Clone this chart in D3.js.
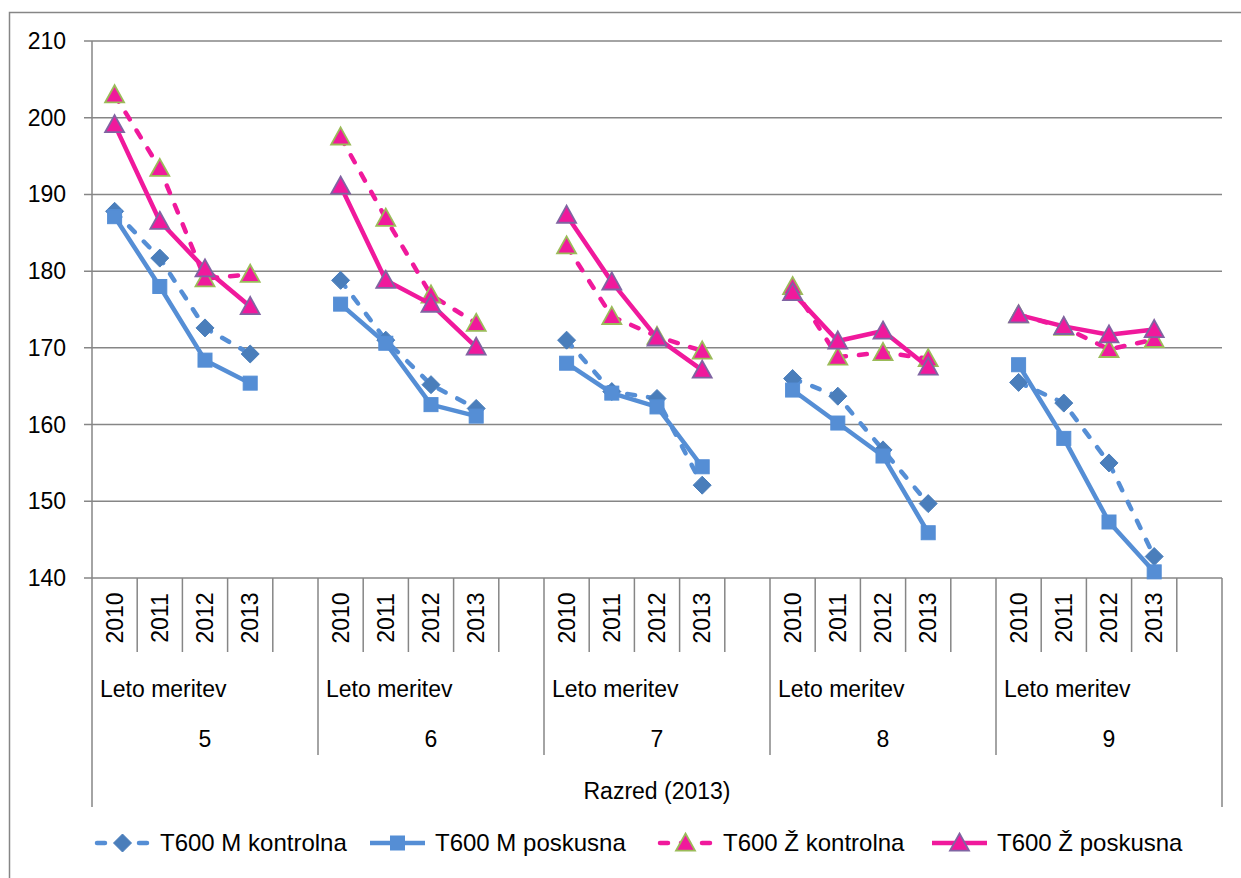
<!DOCTYPE html>
<html>
<head>
<meta charset="utf-8">
<script src="https://cdn.jsdelivr.net/npm/d3@7"></script>
<style>
  html, body { margin: 0; padding: 0; background: #fff; }
  svg { display: block; font-family: "Liberation Sans", Arial, sans-serif; }
</style>
</head>
<body>
<div id="chart"></div>
<script>
// razredi in leta meritev
const grades = ['5', '6', '7', '8', '9']
const years = ['2010', '2011', '2012', '2013']
const yTicks = [140, 150, 160, 170, 180, 190, 200, 210]

// vrednosti po razredih (4 leta za vsak razred)
const mKontrolna = [
  187.8, 181.7, 172.6, 169.2,
  178.8, 171.0, 165.2, 162.1,
  171.0, 164.3, 163.4, 152.1,
  166.0, 163.7, 156.7, 149.7,
  165.5, 162.8, 155.0, 142.8
]
const mPoskusna = [
  187.1, 178.0, 168.4, 165.4,
  175.7, 170.6, 162.6, 161.1,
  168.0, 164.1, 162.3, 154.5,
  164.5, 160.2, 155.9, 145.9,
  167.8, 158.2, 147.3, 140.8
]
const zKontrolna = [
  203.0, 193.4, 179.0, 179.6,
  197.5, 186.9, 176.9, 173.2,
  183.3, 174.1, 171.5, 169.6,
  178.0, 168.8, 169.4, 168.6,
  174.3, 172.7, 169.8, 171.1
]
const zPoskusna = [
  199.1, 186.5, 180.3, 175.4,
  191.1, 178.8, 175.7, 170.1,
  187.3, 178.6, 171.3, 167.1,
  177.2, 170.9, 172.2, 167.5,
  174.3, 172.8, 171.7, 172.4
]

const BLUE = '#558ED5'
const BLUE_DARK = '#4A7EBB'
const PINK = '#F0199C'
const GRID = '#868686'

const series = [
  { name: 'T600 M kontrolna', values: mKontrolna, color: BLUE, dashed: true, marker: 'diamond', fill: BLUE_DARK, stroke: BLUE_DARK },
  { name: 'T600 M poskusna', values: mPoskusna, color: BLUE, dashed: false, marker: 'square', fill: BLUE, stroke: BLUE },
  { name: 'T600 Ž kontrolna', values: zKontrolna, color: PINK, dashed: true, marker: 'triangle', fill: PINK, stroke: '#9BBB59' },
  { name: 'T600 Ž poskusna', values: zPoskusna, color: PINK, dashed: false, marker: 'triangle', fill: PINK, stroke: '#8064A2' }
]

const width = 1241
const height = 878
const plot = { left: 92, right: 1222, top: 41, bottom: 578 }

const svg = d3.select('#chart').append('svg')
  .attr('width', width)
  .attr('height', height)

// okvir
svg.append('rect')
  .attr('x', 9.5).attr('y', 12.5)
  .attr('width', width + 10).attr('height', height + 10)
  .attr('fill', '#fff')
  .attr('stroke', GRID).attr('stroke-width', 1.5)

const yScale = d3.scaleLinear().domain([140, 210]).range([plot.bottom, plot.top])
const gScale = d3.scaleBand().domain(grades).range([plot.left, plot.right])
// 5 mest v skupini, zadnje je prazno
const slotScale = d3.scaleBand().domain([...years, '']).range([0, gScale.bandwidth()])

const xPos = (g, yr) => gScale(g) + slotScale(yr) + slotScale.bandwidth() / 2

// mreža
svg.append('g')
  .selectAll('line')
  .data(yTicks)
  .join('line')
  .attr('x1', plot.left - 8)
  .attr('x2', plot.right)
  .attr('y1', d => yScale(d))
  .attr('y2', d => yScale(d))
  .attr('stroke', GRID)
  .attr('stroke-width', 1.5)

// y os
svg.append('line')
  .attr('x1', plot.left).attr('x2', plot.left)
  .attr('y1', plot.top).attr('y2', 807)
  .attr('stroke', GRID).attr('stroke-width', 1.5)
svg.append('line')
  .attr('x1', plot.right).attr('x2', plot.right)
  .attr('y1', plot.bottom).attr('y2', 807)
  .attr('stroke', GRID).attr('stroke-width', 1.5)

svg.append('g')
  .selectAll('text')
  .data(yTicks)
  .join('text')
  .attr('x', 66)
  .attr('y', d => yScale(d))
  .attr('dy', '0.35em')
  .attr('text-anchor', 'end')
  .attr('font-size', 23)
  .attr('fill', '#000')
  .text(d => d)

// kategorijska os: ločnice med leti
const slotLines = []
grades.forEach(g => {
  slotScale.domain().forEach((yr, i) => {
    if (i > 0) slotLines.push(gScale(g) + slotScale(yr))
  })
})
svg.append('g')
  .selectAll('line')
  .data(slotLines)
  .join('line')
  .attr('x1', d => d).attr('x2', d => d)
  .attr('y1', plot.bottom).attr('y2', 652)
  .attr('stroke', GRID).attr('stroke-width', 1.5)

// ločnice med razredi
svg.append('g')
  .selectAll('line')
  .data(grades.slice(1))
  .join('line')
  .attr('x1', d => gScale(d)).attr('x2', d => gScale(d))
  .attr('y1', plot.bottom).attr('y2', 755)
  .attr('stroke', GRID).attr('stroke-width', 1.5)

// letnice
const yearLabels = []
grades.forEach(g => years.forEach(yr => yearLabels.push({ g, yr })))
svg.append('g')
  .selectAll('text')
  .data(yearLabels)
  .join('text')
  .attr('transform', d => `translate(${xPos(d.g, d.yr)},618) rotate(-90)`)
  .attr('text-anchor', 'middle')
  .attr('dy', '0.35em')
  .attr('font-size', 23)
  .text(d => d.yr)

svg.append('g')
  .selectAll('text')
  .data(grades)
  .join('text')
  .attr('x', d => gScale(d) + 8)
  .attr('y', 689)
  .attr('dy', '0.35em')
  .attr('font-size', 23)
  .text('Leto meritev')

svg.append('g')
  .selectAll('text')
  .data(grades)
  .join('text')
  .attr('x', d => gScale(d) + gScale.bandwidth() / 2)
  .attr('y', 739)
  .attr('dy', '0.35em')
  .attr('text-anchor', 'middle')
  .attr('font-size', 23)
  .text(d => d)

svg.append('text')
  .attr('x', (plot.left + plot.right) / 2)
  .attr('y', 791)
  .attr('dy', '0.35em')
  .attr('text-anchor', 'middle')
  .attr('font-size', 23)
  .text('Razred (2013)')

// oznake
function drawMarker(sel, s) {
  if (s.marker === 'diamond') {
    const r = 9
    sel.append('path').attr('d', `M0,${-r}L${r},0L0,${r}L${-r},0Z`)
  } else if (s.marker === 'square') {
    const h = 7
    sel.append('rect').attr('x', -h).attr('y', -h).attr('width', 2 * h).attr('height', 2 * h)
  } else {
    const r = 9.5
    sel.append('path').attr('d', `M0,${-r}L${r},${r * 0.8}L${-r},${r * 0.8}Z`)
  }
  sel.selectAll('path,rect')
    .attr('fill', s.fill)
    .attr('stroke', s.stroke)
    .attr('stroke-width', s.marker === 'triangle' ? 1.8 : 1)
}

const line = d3.line().x(d => d.x).y(d => d.y)

series.forEach(s => {
  const pts = s.values.map((v, i) => {
    const g = grades[Math.floor(i / years.length)]
    const yr = years[i % years.length]
    return { g, x: xPos(g, yr), y: yScale(v) }
  })
  const sg = svg.append('g')
  sg.selectAll('path.line')
    .data(d3.groups(pts, d => d.g))
    .join('path')
    .attr('class', 'line')
    .attr('d', d => line(d[1]))
    .attr('fill', 'none')
    .attr('stroke', s.color)
    .attr('stroke-width', 4.5)
    .attr('stroke-linecap', s.dashed ? 'round' : 'butt')
    .attr('stroke-linejoin', 'round')
    .attr('stroke-dasharray', s.dashed ? '8,13' : null)
  sg.selectAll('g.mk')
    .data(pts)
    .join('g')
    .attr('class', 'mk')
    .attr('transform', d => `translate(${d.x},${d.y})`)
    .each(function () { drawMarker(d3.select(this), s) })
})

// legenda
const legendX = [95, 370, 658, 932]
const legendY = 843
series.forEach((s, i) => {
  const lg = svg.append('g').attr('transform', `translate(${legendX[i]},${legendY})`)
  lg.append('line')
    .attr('x1', s.dashed ? 2 : 0).attr('x2', s.dashed ? 53 : 55)
    .attr('stroke', s.color)
    .attr('stroke-width', 4.5)
    .attr('stroke-linecap', s.dashed ? 'round' : 'butt')
    .attr('stroke-dasharray', s.dashed ? '8,13' : null)
  const m = lg.append('g').attr('transform', 'translate(27.5,0)')
  drawMarker(m, s)
  lg.append('text')
    .attr('x', 65)
    .attr('dy', '0.35em')
    .attr('font-size', 24)
    .text(s.name)
})
</script>
</body>
</html>
